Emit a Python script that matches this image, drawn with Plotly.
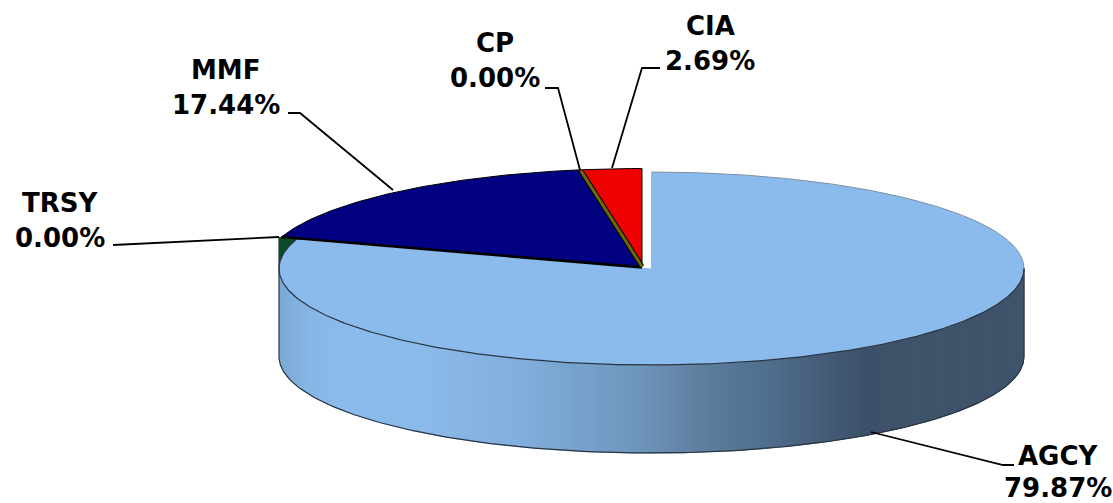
import numpy as np
import plotly.graph_objects as go

categories = ["AGCY", "TRSY", "MMF", "CP", "CIA"]
values = [79.87, 0.00, 17.44, 0.00, 2.69]

W, H = 1113, 503
CX, CY, RX, RY, DEPTH = 651.5, 268.5, 372.5, 96.5, 88
OX, OY, ORX, ORY = 642, 266.5, 378, 98

COL = dict(AGCY="#8BBBEC", TRSY="#0A4C29", MMF="#000080", CP="#6B6B00", CIA="#EE0000")
WALL_X = [279, 290, 310, 340, 430, 520, 560, 640, 700, 760, 820, 868, 900, 1024]
WALL_C = ["#7CA9D4", "#80AEDC", "#86B6E6", "#8BBBEC", "#8ABAEA", "#82AFDD", "#7BA6D2", "#6F95BC",
          "#5F7F9F", "#527090", "#465E79", "#3C5069", "#3F536B", "#40546B"]

LABEL_POS = dict(AGCY=(1058, 456, 488), TRSY=(60, 203, 238), MMF=(226, 70, 105), CP=(495, 43, 78), CIA=(710, 26, 61))
LEADERS = dict(
    AGCY=[(871, 432), (1003, 465), (1014, 465)],
    TRSY=[(279, 237), (113, 245)],
    MMF=[(393, 190), (300, 113), (288, 113)],
    CP=[(580, 170), (558, 88), (545, 88)],
    CIA=[(612, 168), (642, 68), (660, 68)],
)

cum = np.concatenate([[0], np.cumsum(values)]) * 3.6
ang = {c: (np.radians(cum[i]), np.radians(cum[i + 1])) for i, c in enumerate(categories)}


def pt(a, cx=CX, cy=CY, rx=RX, ry=RY):
    return cx + rx * np.sin(a), cy - ry * np.cos(a)


def wedge(a0, a1, cx, cy, rx, ry):
    t = np.linspace(a0, a1, max(4, int((a1 - a0) * 80)))
    x, y = pt(t, cx, cy, rx, ry)
    return np.r_[cx, x, cx], np.r_[cy, y, cy]


def rgb(h):
    return [int(h[i:i + 2], 16) for i in (1, 3, 5)]


stops = np.array([rgb(c) for c in WALL_C], float)


def wall_color(x):
    return "rgb(%d,%d,%d)" % tuple(np.interp(x, WALL_X, stops[:, k]) for k in range(3))


fig = go.Figure()


def poly(x, y, color, line=None, width=1):
    fig.add_trace(go.Scatter(x=x, y=y, mode="lines", fill="toself", fillcolor=color,
                             line=dict(color=line or color, width=width), hoverinfo="skip", showlegend=False))


def line(x, y, color="#000000", width=1.5):
    fig.add_trace(go.Scatter(x=x, y=y, mode="lines", line=dict(color=color, width=width),
                             hoverinfo="skip", showlegend=False))


# TRSY wall, visible in the notch left of the AGCY rim
tx0, ty0 = pt(ang["TRSY"][0], OX, OY, ORX, ORY)
poly([CX - RX, 300, 300, CX - RX], [ty0, ty0, CY + 4, CY + 4], COL["TRSY"], width=0)

# side wall
edges = np.arange(CX - RX, CX + RX + 3, 3.0)
for a, b in zip(edges[:-1], edges[1:]):
    b = min(b, CX + RX)
    xs = np.linspace(a, b, 3)
    top = CY + RY * np.sqrt(np.clip(1 - ((xs - CX) / RX) ** 2, 0, 1))
    poly(np.r_[xs, xs[::-1]], np.r_[top, (top + DEPTH)[::-1]], wall_color((a + b) / 2), width=1)

# AGCY top face
a0, a1 = ang["AGCY"]
wx, wy = wedge(a0, a1, CX, CY, RX, RY)
poly(wx, wy, COL["AGCY"], width=0)

# wall outlines
t = np.linspace(np.pi / 2, a1, 400)
x, y = pt(t)
line(x, y, "#2A3540", 1.2)
t = np.linspace(np.pi / 2, 3 * np.pi / 2, 300)
x, y = pt(t)
line(x, y + DEPTH, "#2A3540", 1.2)
line([CX + RX, CX + RX], [CY, CY + DEPTH], "#2A3540", 1)
line([CX - RX, CX - RX], [ty0, CY + DEPTH], "#2A3540", 1.2)
t = np.linspace(0, np.pi / 2, 200)
x, y = pt(t)
line(x, y, "#7C8FA3", 1)
line([CX, CX], [CY - RY, CY + 1], "#9DB7D2", 1)

# exploded slices
for c in ["MMF", "CIA"]:
    a0, a1 = ang[c]
    wx, wy = wedge(a0, a1, OX, OY, ORX, ORY)
    poly(wx, wy, COL[c], line="#000000", width=1)

# thick dark edge under MMF and the zero-width slices
a = ang["TRSY"][0]
ex, ey = pt(a, OX, OY, ORX, ORY)
line([ex, OX], [ey, OY + 1], "#000000", 2.5)
a = ang["CP"][0]
ex, ey = pt(a, OX, OY, ORX, ORY)
dx = 2.5
line([ex + dx, OX], [ey + 1, OY], "#000000", 5)
line([ex + dx, OX], [ey + 1, OY], COL["CP"], 3)

# leaders
for c in categories:
    pts = LEADERS[c]
    line([p[0] for p in pts], [p[1] for p in pts], "#000000", 1.8)

# labels
for c, v in zip(categories, values):
    px, y1, y2 = LABEL_POS[c]
    for txt, yy in ((c, y1), (f"{v:.2f}%", y2)):
        fig.add_annotation(x=px, y=yy, text=f"<b>{txt}</b>", showarrow=False, xanchor="center", yanchor="middle",
                           font=dict(family="DejaVu Sans", size=26, color="#000000"))

fig.update_layout(
    width=W, height=H, margin=dict(l=0, r=0, t=0, b=0), paper_bgcolor="white", plot_bgcolor="white",
    xaxis=dict(range=[0, W], visible=False, fixedrange=True),
    yaxis=dict(range=[H, 0], visible=False, fixedrange=True),
    showlegend=False,
)
fig.write_html("out.html", config=dict(displayModeBar=False),
               post_script="document.body.style.margin='0';document.body.style.overflow='hidden';")
